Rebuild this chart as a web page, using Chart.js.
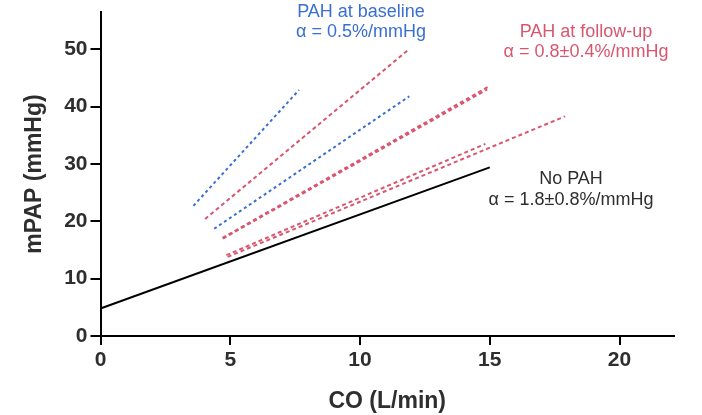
<!DOCTYPE html>
<html>
<head>
<meta charset="utf-8">
<script src="https://cdn.jsdelivr.net/npm/chart.js@4"></script>
<style>
  html, body { margin: 0; padding: 0; background: #fff; }
  #wrap { width: 702px; height: 415px; }
</style>
</head>
<body>
<div id="wrap"><canvas id="chart"></canvas></div>
<script>
// ticks
const coTicks = [0, 5, 10, 15, 20];
const papTicks = [0, 10, 20, 30, 40, 50];

// No PAH regression line (CO, mPAP)
const noPahCO = [0, 15];
const noPahPAP = [4.8, 29.4];

// PAH at baseline, one line per patient: start / end
const baseStartCO = [3.58, 4.38];
const baseStartPAP = [22.7, 18.7];
const baseEndCO = [7.65, 11.9];
const baseEndPAP = [42.9, 41.8];

// PAH at follow-up
const fuStartCO = [4.03, 4.70, 4.72, 4.85, 4.90];
const fuStartPAP = [20.4, 17.1, 17.0, 14.1, 13.8];
const fuEndCO = [11.86, 14.92, 14.90, 14.83, 17.9];
const fuEndPAP = [49.9, 43.4, 43.0, 33.5, 38.3];

const BLUE = '#3a6fd2';
const RED = '#d9566f';
const INK = '#2e2e2e';
const FONT = '"Liberation Sans", Arial, sans-serif';

const datasets = [];
datasets.push({
    data: noPahCO.map((x, i) => ({ x: x, y: noPahPAP[i] })),
    borderColor: '#000', borderWidth: 2
});
baseStartCO.forEach((x, i) => {
    datasets.push({
        data: [{ x: x, y: baseStartPAP[i] }, { x: baseEndCO[i], y: baseEndPAP[i] }],
        borderColor: BLUE, borderWidth: 2, borderDash: [3, 3]
    });
});
fuStartCO.forEach((x, i) => {
    datasets.push({
        data: [{ x: x, y: fuStartPAP[i] }, { x: fuEndCO[i], y: fuEndPAP[i] }],
        borderColor: RED, borderWidth: 2, borderDash: [4, 3]
    });
});
datasets.forEach(d => { d.showLine = true; d.pointRadius = 0; d.fill = false; });

// labels next to the lines
const notes = [
    { x: 361, y: [16.7, 37.3], lines: ['PAH at baseline', 'α = 0.5%/mmHg'], color: BLUE },
    { x: 586, y: [36.7, 57.3], lines: ['PAH at follow-up', 'α = 0.8±0.4%/mmHg'], color: RED },
    { x: 571, y: [184.3, 205], lines: ['No PAH', 'α = 1.8±0.8%/mmHg'], color: INK }
];

const notesPlugin = {
    id: 'notes',
    afterDraw(chart) {
        const ctx = chart.ctx;
        ctx.save();
        ctx.font = '18px ' + FONT;
        ctx.textAlign = 'center';
        ctx.textBaseline = 'alphabetic';
        notes.forEach(n => {
            ctx.fillStyle = n.color;
            n.lines.forEach((t, i) => ctx.fillText(t, n.x, n.y[i]));
        });
        ctx.restore();
    }
};

new Chart(document.getElementById('chart'), {
    type: 'scatter',
    data: { datasets: datasets },
    plugins: [notesPlugin],
    options: {
        responsive: true,
        maintainAspectRatio: false,
        animation: false,
        events: [],
        layout: { padding: { left: 0, right: 28, top: 12, bottom: 0 } },
        plugins: { legend: { display: false }, tooltip: { enabled: false } },
        scales: {
            x: {
                type: 'linear', min: 0, max: 22.1,
                afterBuildTicks: s => { s.ticks = coTicks.map(v => ({ value: v })); },
                afterFit: s => { s.height = 79; s.paddingLeft = 0; s.paddingRight = 0; },
                border: { display: true, color: '#000', width: 2 },
                grid: { drawOnChartArea: false, drawTicks: true, tickLength: 9, color: '#000', lineWidth: 2 },
                ticks: { color: INK, padding: 3, font: { family: FONT, size: 21, weight: 'bold' } },
                title: { display: true, text: 'CO (L/min)', color: INK, padding: { top: 0, bottom: 0 },
                         font: { family: FONT, size: 23, weight: 'bold' } }
            },
            y: {
                type: 'linear', min: 0, max: 56.5,
                afterBuildTicks: s => { s.ticks = papTicks.map(v => ({ value: v })); },
                afterFit: s => { s.width = 100.5; s.paddingTop = 0; s.paddingBottom = 0; },
                border: { display: true, color: '#000', width: 2 },
                grid: { drawOnChartArea: false, drawTicks: true, tickLength: 10, color: '#000', lineWidth: 2 },
                ticks: { color: INK, padding: 3, font: { family: FONT, size: 21, weight: 'bold' } },
                title: { display: true, text: 'mPAP (mmHg)', color: INK, padding: { top: 21, bottom: 0 },
                         font: { family: FONT, size: 23, weight: 'bold' } }
            }
        }
    }
});
</script>
</body>
</html>
